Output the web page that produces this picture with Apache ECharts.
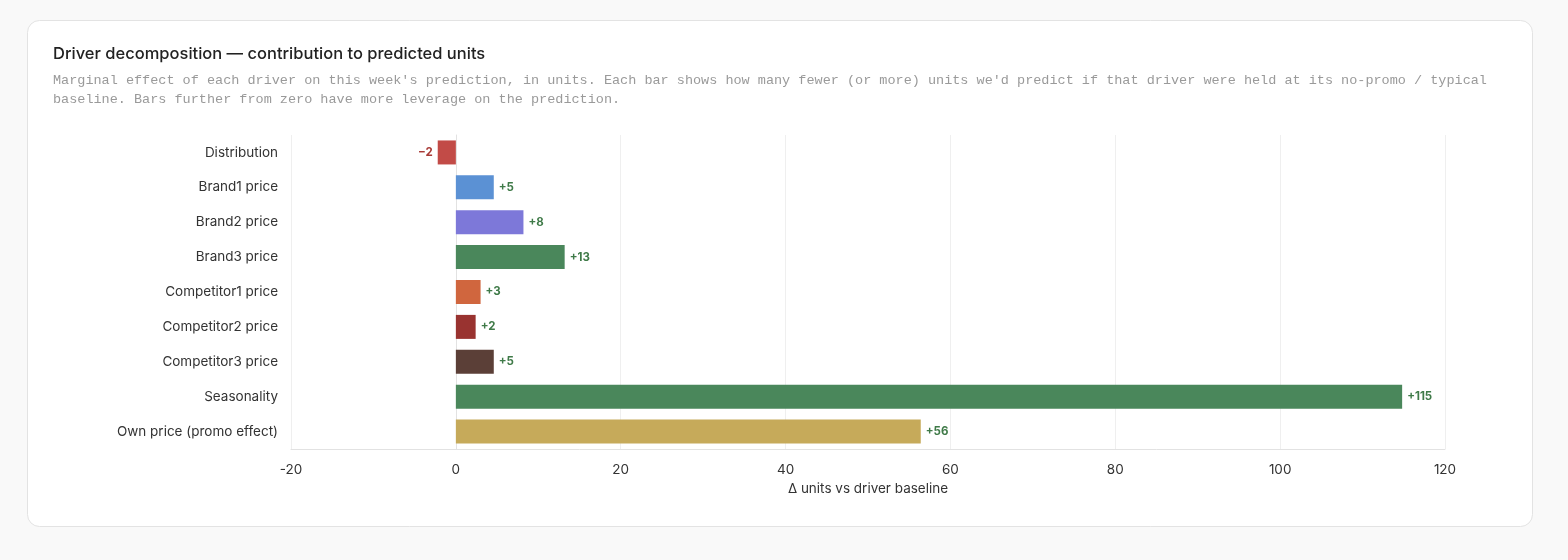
<!DOCTYPE html>
<html><head><meta charset="utf-8">
<script src="https://cdn.jsdelivr.net/npm/echarts@6/dist/echarts.min.js"></script>
<style>html,body{margin:0;padding:0;background:#f9f9f9;}#c{width:1568px;height:560px;}</style>
</head><body><div id="c"></div>
<script>
const categories = ["Distribution","Brand1 price","Brand2 price","Brand3 price","Competitor1 price","Competitor2 price","Competitor3 price","Seasonality","Own price (promo effect)"];
const values = [-2.2, 4.6, 8.2, 13.2, 3.0, 2.4, 4.6, 114.8, 56.4];
const colors = ["#c24b47","#5b91d4","#7d78d9","#4a875b","#d0663e","#993330","#5b3f37","#4a875b","#c6aa5a"];
const titleText = "Driver decomposition — contribution to predicted units";
const subText = "Marginal effect of each driver on this week's prediction, in units. Each bar shows how many fewer (or more) units we'd predict if that driver were held at its no-promo / typical\nbaseline. Bars further from zero have more leverage on the prediction.";
const axisName = "Δ units vs driver baseline";

function fmt(v){ const r = Math.round(v); return r < 0 ? "\u2212" + Math.abs(r) : "+" + r; }

const chart = echarts.init(document.getElementById('c'), null, {renderer:'canvas'});
chart.setOption({
  animation:false,
  backgroundColor:'#f9f9f9',
  graphic:[{type:'rect', z:-10, shape:{x:27.5,y:20.5,width:1505,height:506,r:12}, style:{fill:'#ffffff', stroke:'#e3e3e3', lineWidth:1}}],
  title:{text:titleText, subtext:subText, left:48, top:41, itemGap:8,
    textStyle:{fontFamily:'Inter', fontSize:16.5, fontWeight:500, color:'#222'},
    subtextStyle:{fontFamily:'Liberation Mono', fontSize:13.5, color:'#9a9a9a', lineHeight:19}},
  grid:{left:291, right:123, top:135, bottom:111},
  xAxis:{type:'value', min:-20, max:120, interval:20,
    name:axisName, nameLocation:'middle', nameGap:33,
    nameTextStyle:{fontFamily:'Inter', fontSize:13.5, color:'#333'},
    axisLine:{show:true, lineStyle:{color:'#e2e2e2'}}, axisTick:{show:false},
    axisLabel:{fontFamily:'Inter', fontSize:13.5, color:'#333', margin:14},
    splitLine:{show:true, lineStyle:{color:'#efefef'}}},
  yAxis:{type:'category', data:categories, inverse:true,
    axisLine:{show:true, lineStyle:{color:'#e2e2e2'}}, axisTick:{show:false},
    axisLabel:{fontFamily:'Inter', fontSize:13.5, color:'#333', margin:13}},
  series:[{type:'bar', barWidth:24,
    data: values.map((v,i)=>({value:v, itemStyle:{color:colors[i]},
      label:{color: v<0 ? '#a83a36' : '#3f7a48', position: v<0 ? 'left' : 'right'}})),
    label:{show:true, fontFamily:'Inter', fontSize:11.5, fontWeight:700, distance:5,
      formatter:p=>fmt(p.value)}}]
});
</script></body></html>
